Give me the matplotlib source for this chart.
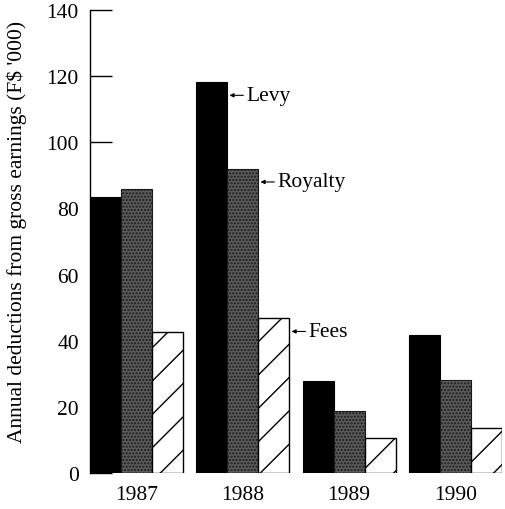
import numpy as np
import matplotlib
matplotlib.use("Agg")
import matplotlib.pyplot as plt

plt.rcParams['font.family'] = ['Liberation Serif', 'DejaVu Serif']
plt.rcParams['hatch.linewidth'] = 1.0

# data (F$ '000)
years = ['1987', '1988', '1989', '1990']
levy = [83.5, 118.2, 27.8, 41.7]
royalty = [86, 92, 18.8, 28.1]
fees = [42.7, 46.8, 10.6, 13.6]

w = 0.292
x = np.arange(len(years))

fig = plt.figure(figsize=(5.05, 5.10), dpi=100)
ax = fig.add_axes([90 / 505, 36 / 510, 412 / 505, 463 / 510])

ax.bar(x - w, levy, w, color='black', edgecolor='black', linewidth=0.8)
ax.bar(x, royalty, w, color='#5a5a5a', edgecolor='#1a1a1a', hatch='.....', linewidth=0.8)
ax.bar(x + w, fees, w, color='white', edgecolor='black', hatch='/', linewidth=1.0)

ax.set_xlim(-1.5 * w, x[-1] + 1.5 * w)
ax.set_ylim(0, 140)
ax.set_yticks(np.arange(0, 141, 20))
ax.set_xticks(x)
ax.set_xticklabels(years)
ax.tick_params(axis='y', direction='in', length=16, width=1, labelsize=15.5, pad=8)
ax.tick_params(axis='x', length=0, labelsize=15.5, pad=9)
ax.set_ylabel("Annual deductions from gross earnings (F$ '000)", fontsize=15.5)
ax.yaxis.set_label_coords(-0.152, 0.523)

for s in ['top', 'right', 'bottom']:
    ax.spines[s].set_visible(False)
ax.spines['left'].set_linewidth(1)

# labels pointing at the 1988 bars
labels = [('Levy', levy[1], 1 - w), ('Royalty', royalty[1], 1), ('Fees', fees[1], 1 + w)]
for name, val, xc in labels:
    ax.annotate(name, xy=(xc + w / 2 + 0.02, val - 4), xytext=(12, 0),
                textcoords='offset points', va='center', ha='left', fontsize=15.5,
                arrowprops=dict(arrowstyle='-|>', color='black', lw=0.8,
                                mutation_scale=6, shrinkA=0, shrinkB=0))

fig.savefig('out.png', dpi=100)
